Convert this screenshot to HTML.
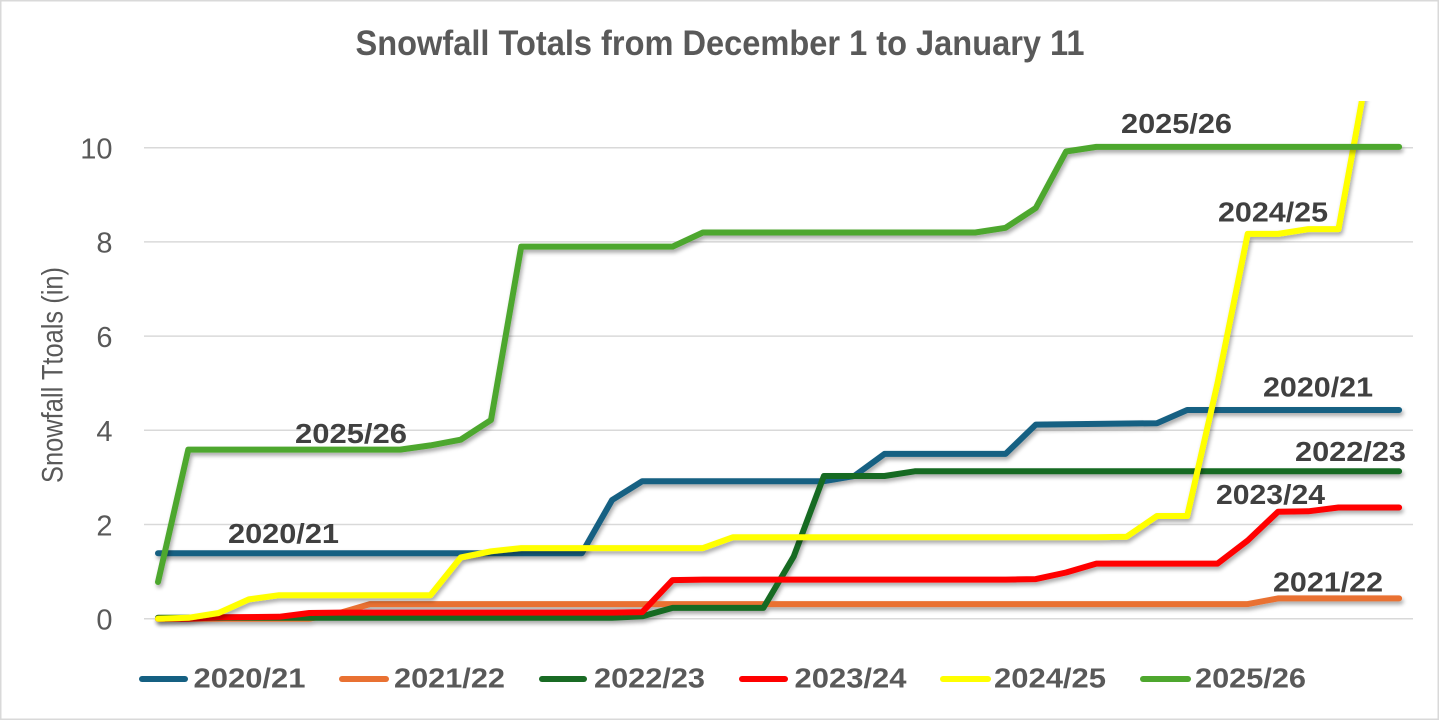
<!DOCTYPE html>
<html>
<head>
<meta charset="utf-8">
<style>
  html, body { margin: 0; padding: 0; background: #ffffff; }
  svg { display: block; }
  text { font-family: "Liberation Sans", Arial, sans-serif; }
</style>
</head>
<body>
<svg width="1440" height="721" viewBox="0 0 1440 721" xmlns="http://www.w3.org/2000/svg">
  <defs>
    <filter id="sh" filterUnits="userSpaceOnUse" x="0" y="0" width="1440" height="721">
      <feGaussianBlur in="SourceAlpha" stdDeviation="2"/>
      <feOffset dx="1.5" dy="3" result="ob"/>
      <feComponentTransfer><feFuncA type="linear" slope="0.35"/></feComponentTransfer>
      <feMerge><feMergeNode/><feMergeNode in="SourceGraphic"/></feMerge>
    </filter>
    <clipPath id="plot"><rect x="130" y="101" width="1300" height="620"/></clipPath>
  </defs>

  <rect x="0" y="0" width="1440" height="721" fill="#ffffff"/>
  <rect x="0.75" y="0.75" width="1437.5" height="718.5" fill="none" stroke="#d9d9d9" stroke-width="1.5"/>

  <!-- Title -->
  <text x="355.5" y="55" font-size="35" font-weight="bold" fill="#595959" textLength="729" lengthAdjust="spacingAndGlyphs">Snowfall Totals from December 1 to January 11</text>

  <!-- Gridlines -->
  <g stroke="#d9d9d9" stroke-width="1.5">
    <line x1="144" y1="147.7" x2="1413" y2="147.7"/>
    <line x1="144" y1="241.9" x2="1413" y2="241.9"/>
    <line x1="144" y1="336.1" x2="1413" y2="336.1"/>
    <line x1="144" y1="430.3" x2="1413" y2="430.3"/>
    <line x1="144" y1="524.5" x2="1413" y2="524.5"/>
    <line x1="144" y1="618.7" x2="1413" y2="618.7"/>
  </g>

  <!-- Y tick labels -->
  <g font-size="29" fill="#595959" text-anchor="end">
    <text x="112.5" y="158.5">10</text>
    <text x="112.5" y="252.7">8</text>
    <text x="112.5" y="346.9">6</text>
    <text x="112.5" y="441.1">4</text>
    <text x="112.5" y="535.3">2</text>
    <text x="112.5" y="629.5">0</text>
  </g>

  <!-- Y axis title -->
  <text transform="translate(62.5,375) rotate(-90)" x="0" y="0" font-size="30" fill="#595959" text-anchor="middle" textLength="216" lengthAdjust="spacingAndGlyphs">Snowfall Ttoals (in)</text>

  <!-- Series -->
  <g fill="none" stroke-width="6" stroke-linejoin="round" stroke-linecap="round" filter="url(#sh)">
    <!-- 2020/21 -->
    <polyline stroke="#156082" points="158,553.2 581.8,553.2 612.1,500.0 642.3,481.2 823.9,481.2 854.2,476.0 884.5,453.9 1005.6,453.9 1035.8,424.6 1156.9,423.2 1187.2,410.0 1399.1,410.0"/>
    <!-- 2021/22 -->
    <polyline stroke="#e97132" points="158,618.7 309.4,618.7 339.6,613.0 369.9,604.1 1247.7,604.1 1278,598.4 1399.1,598.4"/>
    <!-- 2022/23 -->
    <polyline stroke="#196b24" points="158,617.8 612.1,617.8 642.3,616.3 672.6,607.9 763.4,607.9 793.7,556.5 823.9,476.0 884.5,476.0 914.8,471.3 1399.1,471.3"/>
    <!-- 2023/24 -->
    <polyline stroke="#ff0000" points="158,618.7 188.3,618.7 218.5,617.3 279.1,616.8 309.4,613.0 339.6,612.6 612.1,612.6 642.3,612.1 672.6,580.1 702.9,579.6 1005.6,579.6 1035.8,579.1 1066.1,572.5 1096.4,563.6 1217.5,563.6 1247.7,540.5 1278,511.8 1308.3,511.3 1338.5,507.5 1399.1,507.5"/>
  </g>
  <g clip-path="url(#plot)">
    <polyline fill="none" stroke="#ffff00" stroke-width="6" stroke-linejoin="round" stroke-linecap="round" filter="url(#sh)" points="158,618.7 188.3,617.8 218.5,613.0 248.8,599.4 279.1,595.2 430.4,595.2 460.7,557.5 491,551.3 521.2,548.1 702.9,548.1 733.1,537.2 1096.4,537.2 1126.6,536.7 1156.9,516.0 1187.2,516.0 1217.5,383.2 1247.7,233.9 1278,233.9 1308.3,229.1 1338.5,229.1 1368.8,62.9 1399.1,30"/>
  </g>
  <g fill="none" stroke-width="6" stroke-linejoin="round" stroke-linecap="round" filter="url(#sh)">
    <!-- 2025/26 -->
    <polyline stroke="#4ea72e" points="158,582.0 188.3,449.6 400.2,449.6 430.4,445.4 460.7,439.7 491,420.0 521.2,246.6 672.6,246.6 702.9,232.5 975.3,232.5 1005.6,227.8 1035.8,208.0 1066.1,151.5 1096.4,146.9 1399.1,146.9"/>
  </g>

  <!-- Data labels -->
  <g font-size="28" font-weight="bold" fill="#404040">
    <text x="295" y="443" textLength="112" lengthAdjust="spacingAndGlyphs">2025/26</text>
    <text x="228" y="543" textLength="111" lengthAdjust="spacingAndGlyphs">2020/21</text>
    <text x="1121" y="133" textLength="111" lengthAdjust="spacingAndGlyphs">2025/26</text>
    <text x="1218" y="221.5" textLength="110" lengthAdjust="spacingAndGlyphs">2024/25</text>
    <text x="1263" y="396.5" textLength="110" lengthAdjust="spacingAndGlyphs">2020/21</text>
    <text x="1295" y="461" textLength="111" lengthAdjust="spacingAndGlyphs">2022/23</text>
    <text x="1216" y="504" textLength="109" lengthAdjust="spacingAndGlyphs">2023/24</text>
    <text x="1273" y="591.5" textLength="110" lengthAdjust="spacingAndGlyphs">2021/22</text>
  </g>

  <!-- Legend -->
  <g stroke-width="6" stroke-linecap="round">
    <line x1="142" y1="679" x2="185" y2="679" stroke="#156082"/>
    <line x1="342" y1="679" x2="386" y2="679" stroke="#e97132"/>
    <line x1="542" y1="679" x2="584" y2="679" stroke="#196b24"/>
    <line x1="742" y1="679" x2="785" y2="679" stroke="#ff0000"/>
    <line x1="943" y1="679" x2="988" y2="679" stroke="#ffff00"/>
    <line x1="1143" y1="679" x2="1188" y2="679" stroke="#4ea72e"/>
  </g>
  <g font-size="28" font-weight="bold" fill="#595959">
    <text x="193.5" y="687.5" textLength="112" lengthAdjust="spacingAndGlyphs">2020/21</text>
    <text x="394" y="687.5" textLength="111" lengthAdjust="spacingAndGlyphs">2021/22</text>
    <text x="594" y="687.5" textLength="111" lengthAdjust="spacingAndGlyphs">2022/23</text>
    <text x="794.5" y="687.5" textLength="112" lengthAdjust="spacingAndGlyphs">2023/24</text>
    <text x="994" y="687.5" textLength="112" lengthAdjust="spacingAndGlyphs">2024/25</text>
    <text x="1195" y="687.5" textLength="111" lengthAdjust="spacingAndGlyphs">2025/26</text>
  </g>
</svg>
</body>
</html>
